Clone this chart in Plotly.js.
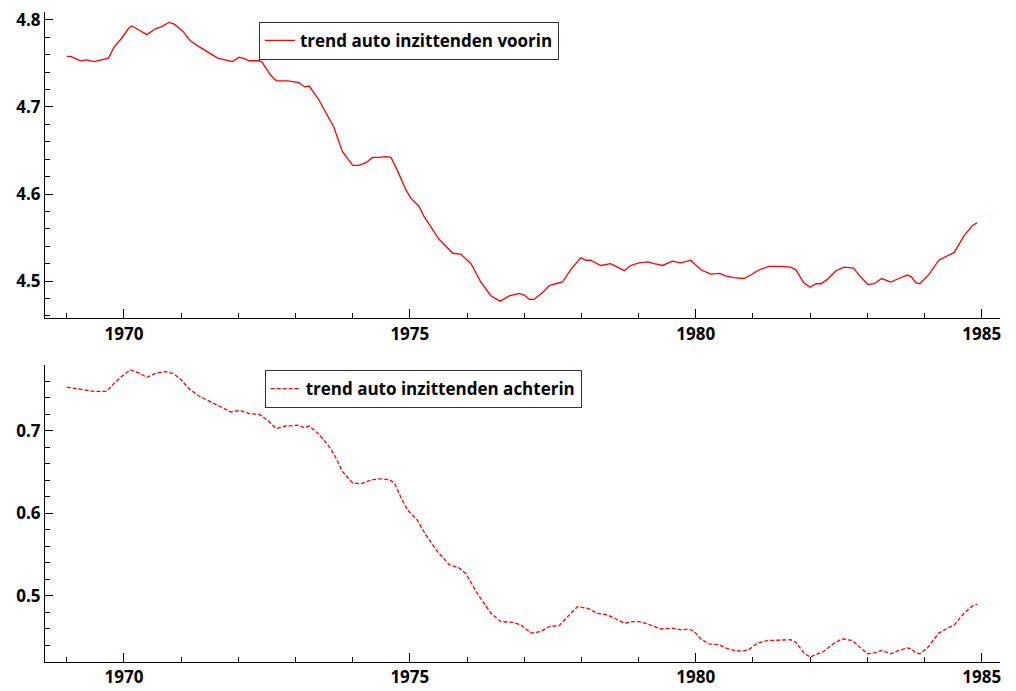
<!DOCTYPE html>
<html>
<head>
<meta charset="utf-8">
<script src="https://cdn.plot.ly/plotly-3.0.1.min.js"></script>
<style>html,body{margin:0;padding:0;background:#fff;}#chart{width:1016px;height:691px;}</style>
</head>
<body>
<div id="chart"></div>
<script>
const seriesNames = ["trend auto inzittenden voorin", "trend auto inzittenden achterin"];

const voorinYears = [1969.00,1969.07,1969.24,1969.34,1969.48,1969.63,1969.73,1969.83,1969.95,1970.08,1970.14,1970.27,1970.40,1970.56,1970.65,1970.79,1970.88,1971.03,1971.16,1971.32,1971.49,1971.64,1971.90,1972.01,1972.08,1972.19,1972.37,1972.42,1972.57,1972.67,1972.86,1973.06,1973.16,1973.24,1973.41,1973.56,1973.67,1973.82,1974.00,1974.11,1974.23,1974.35,1974.46,1974.58,1974.67,1974.79,1974.93,1975.02,1975.16,1975.25,1975.37,1975.51,1975.63,1975.75,1975.89,1976.07,1976.24,1976.42,1976.58,1976.74,1976.91,1977.00,1977.09,1977.17,1977.32,1977.44,1977.55,1977.67,1977.81,1977.99,1978.08,1978.16,1978.34,1978.46,1978.51,1978.75,1978.86,1979.01,1979.16,1979.27,1979.42,1979.59,1979.74,1979.91,1980.09,1980.26,1980.42,1980.52,1980.67,1980.84,1980.96,1981.11,1981.28,1981.49,1981.66,1981.75,1981.89,1982.00,1982.10,1982.19,1982.30,1982.45,1982.59,1982.76,1982.88,1983.01,1983.12,1983.25,1983.41,1983.55,1983.70,1983.77,1983.85,1983.92,1984.08,1984.25,1984.43,1984.52,1984.69,1984.84,1984.92];
const voorinValues = [4.758,4.758,4.753,4.754,4.752,4.754,4.756,4.769,4.778,4.790,4.793,4.788,4.783,4.790,4.792,4.797,4.795,4.787,4.776,4.769,4.762,4.756,4.752,4.757,4.756,4.753,4.753,4.751,4.736,4.730,4.730,4.728,4.723,4.724,4.708,4.690,4.677,4.649,4.633,4.633,4.636,4.642,4.642,4.643,4.642,4.626,4.605,4.595,4.586,4.574,4.562,4.548,4.540,4.532,4.531,4.520,4.499,4.483,4.477,4.483,4.486,4.484,4.479,4.479,4.487,4.495,4.497,4.499,4.513,4.527,4.524,4.524,4.518,4.520,4.520,4.512,4.518,4.521,4.522,4.520,4.518,4.523,4.521,4.524,4.513,4.508,4.509,4.506,4.504,4.503,4.507,4.513,4.517,4.517,4.516,4.513,4.498,4.493,4.497,4.497,4.502,4.512,4.516,4.515,4.505,4.496,4.497,4.503,4.499,4.503,4.507,4.505,4.498,4.497,4.508,4.524,4.530,4.533,4.552,4.564,4.567];

const achterinYears = [1969.00,1969.10,1969.25,1969.48,1969.69,1969.74,1969.83,1970.01,1970.12,1970.27,1970.40,1970.56,1970.73,1970.88,1971.00,1971.14,1971.32,1971.58,1971.70,1971.87,1972.03,1972.19,1972.37,1972.51,1972.66,1972.83,1973.04,1973.15,1973.24,1973.41,1973.59,1973.68,1973.82,1974.00,1974.14,1974.35,1974.49,1974.64,1974.73,1974.84,1974.96,1975.13,1975.28,1975.48,1975.69,1975.86,1975.98,1976.18,1976.42,1976.59,1976.80,1976.94,1977.12,1977.29,1977.44,1977.61,1977.76,1977.93,1978.11,1978.28,1978.46,1978.57,1978.75,1978.89,1979.01,1979.16,1979.39,1979.59,1979.74,1979.88,1979.97,1980.09,1980.23,1980.41,1980.52,1980.67,1980.82,1980.93,1981.08,1981.25,1981.49,1981.66,1981.75,1981.89,1982.00,1982.13,1982.24,1982.42,1982.56,1982.74,1982.88,1983.00,1983.12,1983.25,1983.41,1983.55,1983.70,1983.77,1983.85,1983.92,1984.05,1984.25,1984.43,1984.52,1984.69,1984.84,1984.92];
const achterinValues = [0.753,0.752,0.750,0.748,0.748,0.751,0.758,0.769,0.774,0.770,0.765,0.770,0.772,0.769,0.762,0.751,0.742,0.733,0.728,0.723,0.725,0.721,0.720,0.713,0.703,0.706,0.707,0.704,0.706,0.696,0.681,0.671,0.651,0.637,0.636,0.641,0.642,0.641,0.637,0.620,0.604,0.592,0.574,0.554,0.538,0.534,0.527,0.503,0.479,0.469,0.468,0.465,0.455,0.457,0.463,0.464,0.475,0.487,0.485,0.479,0.477,0.473,0.467,0.469,0.469,0.466,0.460,0.461,0.459,0.460,0.457,0.448,0.442,0.441,0.437,0.434,0.433,0.435,0.443,0.446,0.447,0.447,0.444,0.431,0.426,0.430,0.433,0.443,0.448,0.446,0.438,0.430,0.431,0.434,0.430,0.434,0.437,0.436,0.431,0.430,0.437,0.455,0.462,0.465,0.479,0.488,0.490];

const xTickVals = [1970, 1975, 1980, 1985];
const xTickText = ["1970", "1975", "1980", "1985"];

const fontFamily = "Open Sans";
const tickFont = {family: fontFamily, size: 17, color: "#000", weight: 700};

const traces = [
  {x: voorinYears, y: voorinValues, name: seriesNames[0], type: "scatter", mode: "lines",
   line: {color: "#ff0000", width: 1.3}, xaxis: "x", yaxis: "y", legend: "legend"},
  {x: achterinYears, y: achterinValues, name: seriesNames[1], type: "scatter", mode: "lines",
   line: {color: "#ff0000", width: 1.3, dash: "4px,2px"}, xaxis: "x2", yaxis: "y2", legend: "legend2"}
];

function xAxis(anchor) {
  return {
    anchor: anchor, range: [1968.62, 1985.32], showgrid: false, zeroline: false,
    showline: true, linecolor: "#000", linewidth: 1,
    tickmode: "array", tickvals: xTickVals, ticktext: xTickText,
    ticks: "inside", ticklen: 9, tickcolor: "#000", tickwidth: 1,
    minor: {dtick: 1, tick0: 1969, ticks: "inside", ticklen: 5, tickcolor: "#000", showgrid: false},
    tickfont: tickFont
  };
}
function yAxis(anchor, domain, range, tick0) {
  return {
    anchor: anchor, domain: domain, range: range, showgrid: false, zeroline: false,
    showline: true, linecolor: "#000", linewidth: 1,
    tick0: tick0, dtick: 0.1, tickformat: ".1f",
    ticks: "inside", ticklen: 8, tickcolor: "#000", tickwidth: 1,
    minor: {dtick: 0.02, ticks: "inside", ticklen: 5, tickcolor: "#000", showgrid: false},
    tickfont: tickFont
  };
}

const legendFont = {family: fontFamily, size: 17, color: "#000", weight: 700};

const layout = {
  width: 1016, height: 691,
  margin: {l: 45, r: 16, t: 12, b: 29},
  paper_bgcolor: "#fff", plot_bgcolor: "#fff",
  showlegend: true,
  xaxis: xAxis("y"),
  yaxis: yAxis("x", [0.529, 1], [4.4575, 4.809], 4.5),
  xaxis2: xAxis("y2"),
  yaxis2: yAxis("x2", [0, 0.457], [0.42, 0.78], 0.5),
  legend: {x: 0.224, y: 0.985, xanchor: "left", yanchor: "top", bgcolor: "#fff",
           bordercolor: "#333", borderwidth: 1, font: legendFont, tracegroupgap: 0},
  legend2: {x: 0.230, y: 0.449, xanchor: "left", yanchor: "top", bgcolor: "#fff",
            bordercolor: "#333", borderwidth: 1, font: legendFont, tracegroupgap: 0}
};

Plotly.newPlot("chart", traces, layout, {displayModeBar: false, staticPlot: true});
</script>
</body>
</html>
